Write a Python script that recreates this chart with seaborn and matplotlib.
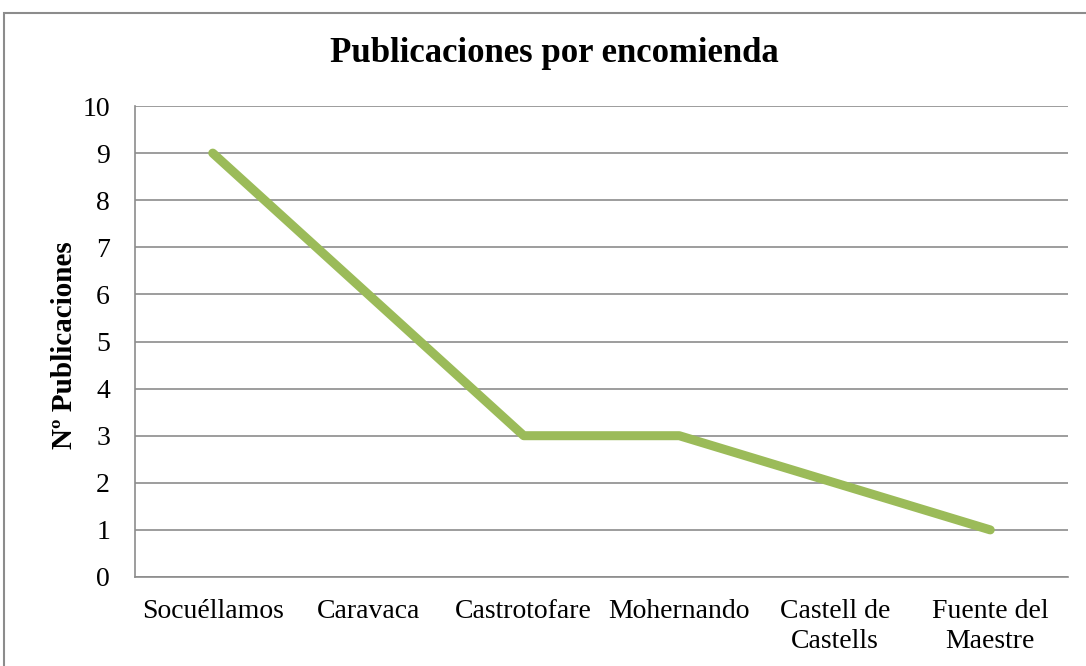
import matplotlib
matplotlib.use('Agg')
import matplotlib.pyplot as plt
import seaborn as sns
import pandas as pd
from matplotlib.patches import Rectangle

# data
encomiendas = ["Socuéllamos", "Caravaca", "Castrotofare", "Mohernando",
               "Castell de\nCastells", "Fuente del\nMaestre"]
publicaciones = [9, 6, 3, 3, 2, 1]
yticks = list(range(0, 11))

sns.set_style("white")
plt.rcParams['font.family'] = ['Liberation Serif', 'DejaVu Serif']

df = pd.DataFrame({"Encomienda": encomiendas, "Publicaciones": publicaciones})

fig = plt.figure(figsize=(10.86, 6.66), dpi=100)
ax = fig.add_axes([135 / 1086, 89 / 666, 933 / 1086, 471 / 666])

sns.lineplot(data=df, x="Encomienda", y="Publicaciones", sort=False,
             color="#9BBB59", linewidth=6.5, solid_capstyle="round",
             solid_joinstyle="round", ax=ax)

ax.set_xlim(-0.5, len(encomiendas) - 0.5)
ax.set_ylim(0, 10)
ax.set_yticks(yticks)
ax.grid(axis="y", color="#8c8c8c", linewidth=1.2)
ax.set_axisbelow(True)
for side in ["top", "right"]:
    ax.spines[side].set_visible(False)
for side in ["left", "bottom"]:
    ax.spines[side].set_color("#8c8c8c")
    ax.spines[side].set_linewidth(1.2)
ax.tick_params(axis="both", length=0, labelsize=20, colors="black")
ax.tick_params(axis="x", pad=16)
ax.tick_params(axis="y", pad=18)
for lbl in ax.get_xticklabels():
    lbl.set_linespacing(1.25)

ax.set_xlabel("")
ax.set_ylabel("")
fig.text(65 / 1086, 1 - 345 / 666, "Nº Publicaciones", rotation=90,
         ha="center", va="center", fontsize=21, fontweight="bold",
         color="black")
fig.text(554 / 1086, 1 - 53 / 666, "Publicaciones por encomienda",
         ha="center", va="center", fontsize=25, fontweight="bold",
         color="black")

# chart-area border
fig.patches.append(Rectangle((4 / 1086, -0.05), 1.2, 1.05 - 13 / 666,
                             transform=fig.transFigure, fill=False,
                             edgecolor="#8c8c8c", linewidth=1.5))

plt.savefig("out.png", dpi=100)
plt.close()
